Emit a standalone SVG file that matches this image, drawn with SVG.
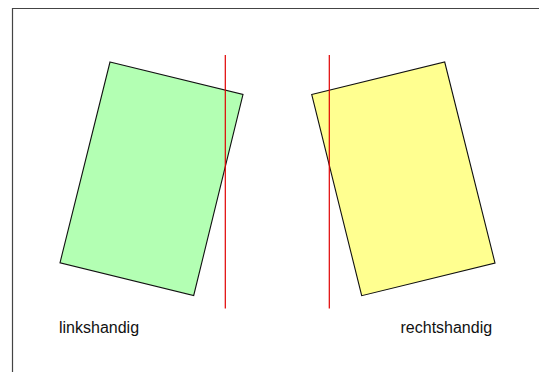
<svg xmlns="http://www.w3.org/2000/svg" width="539" height="372" viewBox="0 0 539 372">
<style>
.frame{fill:none;stroke:#444;stroke-width:1.2}
.poly{stroke:#111;stroke-width:1.1;stroke-linejoin:miter}
.axis{stroke:#e00000;stroke-width:1.2}
.lbl{font-family:"Liberation Sans",Arial,sans-serif;font-size:16px;fill:#111}
</style>
<rect width="539" height="372" fill="#fff"/>
<path class="frame" d="M12.5,372 L12.5,8.5 L539,8.5"/>
<g id="green">
<polygon class="poly" fill="#b3ffb3" points="110,62 243,94.5 193.7,295.5 60,262.8"/>
</g>
<g id="yellow">
<polygon class="poly" fill="#ffff90" points="311.7,94.5 444.7,62 495,263 361.7,295.7"/>
</g>
<g id="connectors">
<line class="axis" x1="225.3" y1="55" x2="225.3" y2="308.5"/>
<line class="axis" x1="329.3" y1="55" x2="329.3" y2="308.5"/>
</g>
<g id="label-left"><text class="lbl" x="59" y="332.5">linkshandig</text></g>
<g id="label-right"><text class="lbl" x="400.5" y="332.5">rechtshandig</text></g>
</svg>
